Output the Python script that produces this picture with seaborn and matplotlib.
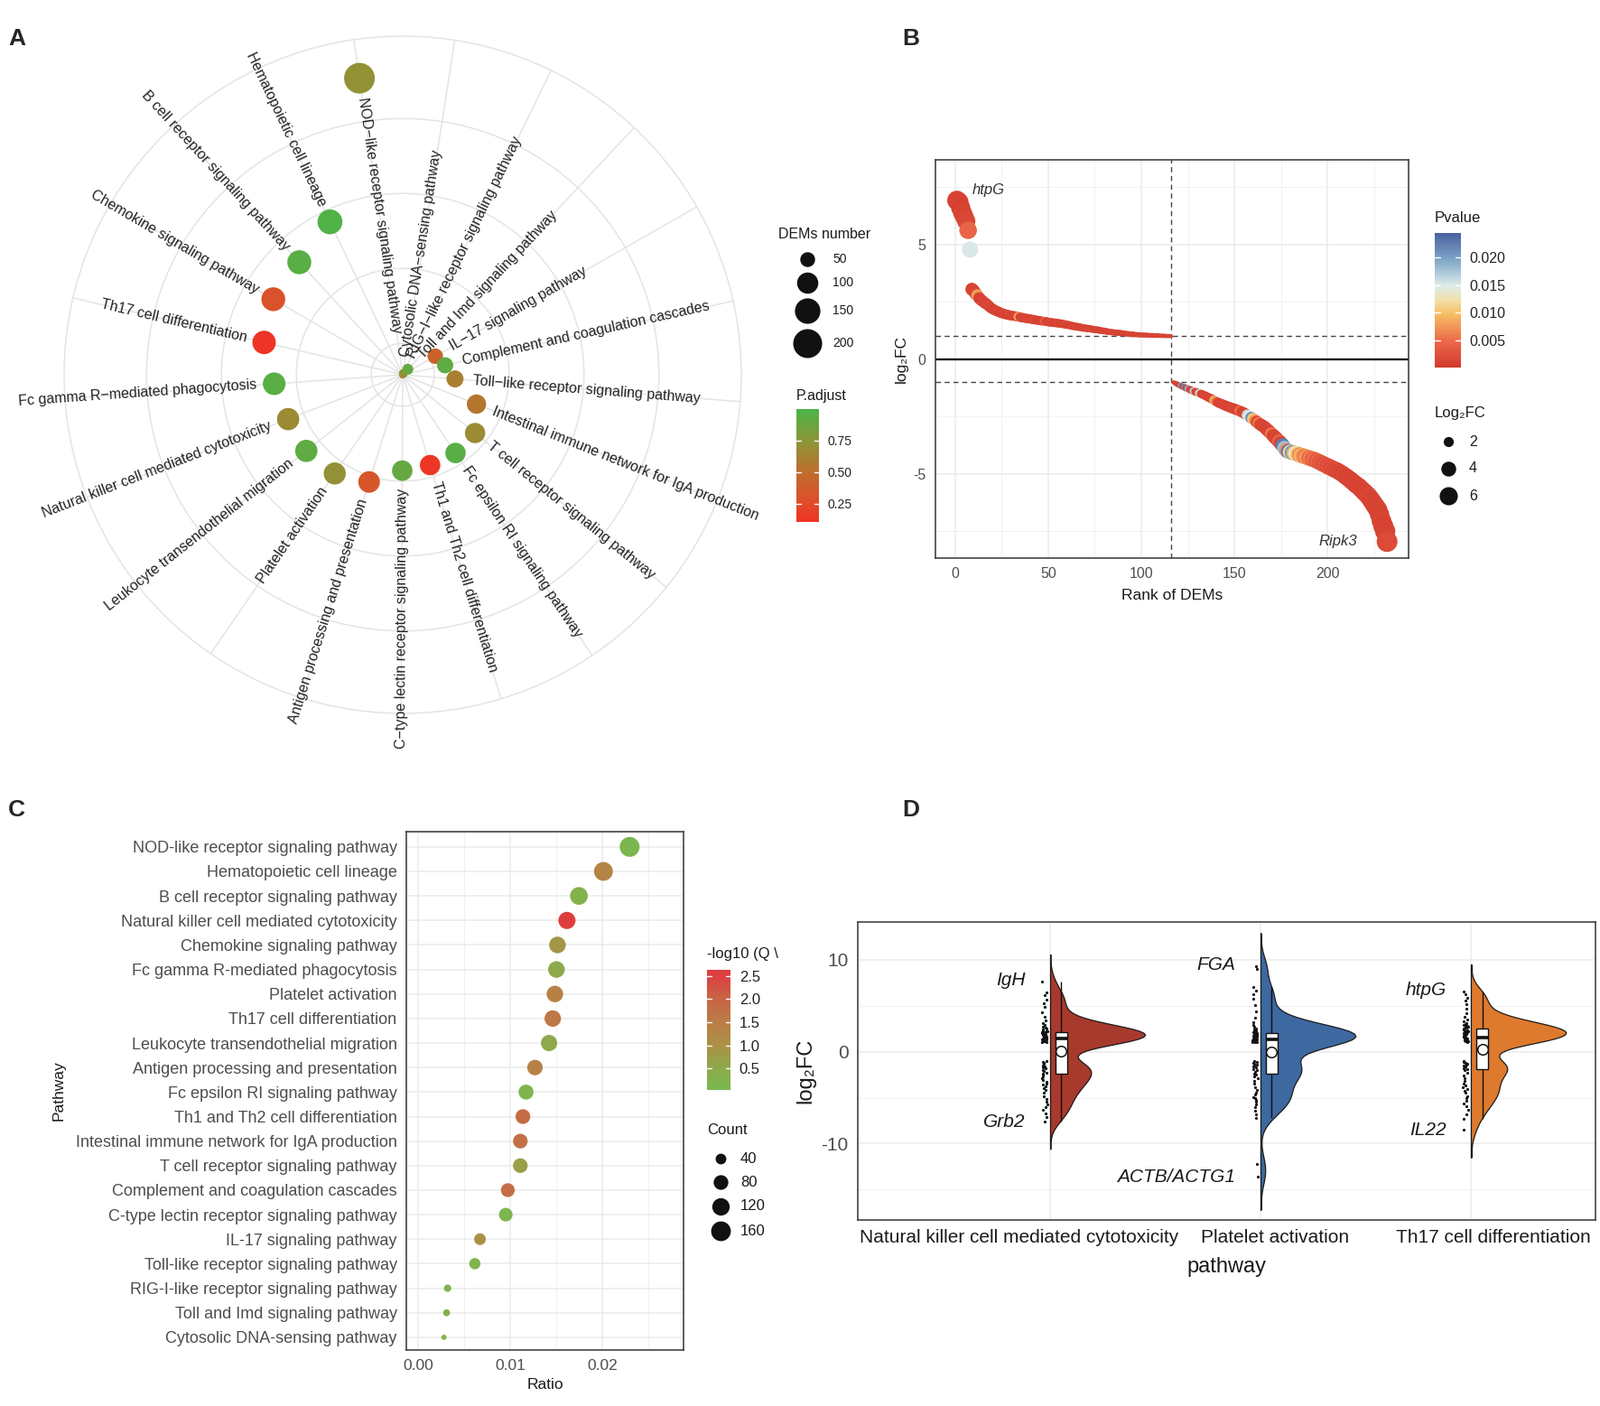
import numpy as np
import pandas as pd
import seaborn as sns
import matplotlib.pyplot as plt
import matplotlib.transforms as mtransforms
from matplotlib.colors import LinearSegmentedColormap, Normalize
from matplotlib.cm import ScalarMappable
from matplotlib.lines import Line2D
from matplotlib.patches import Rectangle
from matplotlib.ticker import MultipleLocator, FormatStrFormatter

sns.set_style("white")
plt.rcParams['font.family'] = ['Liberation Sans', 'DejaVu Sans']
plt.rcParams['axes.unicode_minus'] = False

# ---------------- A: circular enrichment plot ----------------
a_pathways = ["NOD\u2212like receptor signaling pathway", "Cytosolic DNA\u2212sensing pathway",
              "RIG\u2212I\u2212like receptor signaling pathway", "Toll and Imd signaling pathway",
              "IL\u221217 signaling pathway", "Complement and coagulation cascades",
              "Toll\u2212like receptor signaling pathway", "Intestinal immune network for IgA production",
              "T cell receptor signaling pathway", "Fc epsilon RI signaling pathway",
              "Th1 and Th2 cell differentiation", "C\u2212type lectin receptor signaling pathway",
              "Antigen processing and presentation", "Platelet activation",
              "Leukocyte transendothelial migration", "Natural killer cell mediated cytotoxicity",
              "Fc gamma R\u2212mediated phagocytosis", "Th17 cell differentiation",
              "Chemokine signaling pathway", "B cell receptor signaling pathway",
              "Hematopoietic cell lineage"]
a_dems = [229, 29, 30, 34, 54, 58, 64, 82, 91, 92, 92, 93, 104, 109, 111, 111, 115, 124, 129, 131, 142]
a_padj = [0.72, 0.30, 0.70, 0.90, 0.42, 0.93, 0.60, 0.55, 0.68, 0.95, 0.13, 0.90, 0.33, 0.72,
          0.93, 0.68, 0.95, 0.12, 0.30, 0.95, 0.98]

# ---------------- B: ranked DEMs ----------------
b_up_fc = [6.92, 6.85, 6.60, 6.38, 6.20, 6.02, 5.62, 4.78, 3.05, 2.98,
           2.86, 2.78, 2.66, 2.58, 2.52, 2.45, 2.40, 2.33, 2.25, 2.20,
           2.15, 2.11, 2.08, 2.04, 2.01, 1.98, 1.96, 1.94, 1.92, 1.90,
           1.89, 1.88, 1.86, 1.85, 1.83, 1.81, 1.80, 1.78, 1.77, 1.76,
           1.74, 1.73, 1.71, 1.70, 1.69, 1.67, 1.66, 1.65, 1.64, 1.62,
           1.61, 1.60, 1.59, 1.58, 1.57, 1.56, 1.55, 1.53, 1.52, 1.50,
           1.49, 1.47, 1.45, 1.43, 1.42, 1.41, 1.39, 1.38, 1.36, 1.35,
           1.34, 1.33, 1.32, 1.30, 1.29, 1.28, 1.27, 1.25, 1.24, 1.23,
           1.22, 1.20, 1.19, 1.18, 1.17, 1.16, 1.15, 1.15, 1.14, 1.13,
           1.12, 1.11, 1.10, 1.09, 1.09, 1.08, 1.07, 1.07, 1.06, 1.06,
           1.05, 1.05, 1.05, 1.04, 1.04, 1.04, 1.03, 1.03, 1.03, 1.02,
           1.02, 1.02, 1.01, 1.01, 1.01, 1.00]
b_up_p = [0.0009, 0.0011, 0.0007, 0.0012, 0.0010, 0.0014, 0.0043, 0.0152, 0.0011, 0.0009,
          0.0013, 0.0078, 0.0010, 0.0008, 0.0012, 0.0011, 0.0009, 0.0015, 0.0010, 0.0012,
          0.0008, 0.0011, 0.0013, 0.0009, 0.0010, 0.0012, 0.0011, 0.0009, 0.0014, 0.0010,
          0.0012, 0.0009, 0.0011, 0.0082, 0.0010, 0.0013, 0.0008, 0.0011, 0.0012, 0.0010,
          0.0009, 0.0011, 0.0014, 0.0010, 0.0008, 0.0012, 0.0011, 0.0035, 0.0010, 0.0009,
          0.0013, 0.0010, 0.0011, 0.0009, 0.0012, 0.0010, 0.0008, 0.0011, 0.0013, 0.0010,
          0.0009, 0.0012, 0.0011, 0.0010, 0.0014, 0.0009, 0.0011, 0.0010, 0.0012, 0.0008,
          0.0011, 0.0010, 0.0013, 0.0009, 0.0012, 0.0010, 0.0011, 0.0009, 0.0010, 0.0012,
          0.0010, 0.0011, 0.0009, 0.0013, 0.0010, 0.0012, 0.0008, 0.0011, 0.0010, 0.0009,
          0.0012, 0.0010, 0.0011, 0.0013, 0.0009, 0.0010, 0.0012, 0.0011, 0.0008, 0.0010,
          0.0011, 0.0009, 0.0012, 0.0010, 0.0013, 0.0011, 0.0009, 0.0010, 0.0012, 0.0010,
          0.0011, 0.0009, 0.0010, 0.0012, 0.0011, 0.0010]
b_down_fc = [-1.00, -1.04, -1.08, -1.12, -1.15, -1.19, -1.22, -1.26, -1.29, -1.32,
             -1.36, -1.39, -1.42, -1.45, -1.48, -1.51, -1.54, -1.58, -1.62, -1.66,
             -1.70, -1.74, -1.79, -1.84, -1.88, -1.92, -1.95, -1.98, -2.02, -2.05,
             -2.08, -2.11, -2.14, -2.17, -2.20, -2.23, -2.26, -2.30, -2.34, -2.39,
             -2.44, -2.49, -2.55, -2.60, -2.66, -2.73, -2.79, -2.85, -2.90, -2.95,
             -3.03, -3.10, -3.18, -3.26, -3.34, -3.42, -3.50, -3.58, -3.67, -3.76,
             -3.88, -3.97, -4.02, -4.05, -4.07, -4.09, -4.11, -4.14, -4.17, -4.20,
             -4.22, -4.25, -4.28, -4.30, -4.33, -4.36, -4.38, -4.42, -4.46, -4.50,
             -4.54, -4.58, -4.62, -4.66, -4.70, -4.74, -4.78, -4.82, -4.85, -4.90,
             -4.95, -5.00, -5.06, -5.12, -5.18, -5.24, -5.31, -5.38, -5.45, -5.51,
             -5.57, -5.65, -5.73, -5.81, -5.89, -5.97, -6.08, -6.20, -6.32, -6.44,
             -6.56, -6.78, -7.05, -7.28, -7.50, -7.95]
b_down_p = [0.0012, 0.0010, 0.0015, 0.0009, 0.0205, 0.0011, 0.0218, 0.0013, 0.0192, 0.0010,
            0.0012, 0.0171, 0.0011, 0.0009, 0.0158, 0.0013, 0.0010, 0.0012, 0.0011, 0.0009,
            0.0014, 0.0010, 0.0088, 0.0062, 0.0012, 0.0011, 0.0009, 0.0013, 0.0010, 0.0012,
            0.0011, 0.0010, 0.0014, 0.0012, 0.0009, 0.0011, 0.0051, 0.0010, 0.0012, 0.0013,
            0.0160, 0.0148, 0.0212, 0.0105, 0.0078, 0.0011, 0.0060, 0.0012, 0.0010, 0.0013,
            0.0011, 0.0009, 0.0012, 0.0055, 0.0010, 0.0013, 0.0011, 0.0042, 0.0012, 0.0225,
            0.0178, 0.0071, 0.0231, 0.0120, 0.0208, 0.0089, 0.0140, 0.0105, 0.0066, 0.0095,
            0.0072, 0.0058, 0.0081, 0.0047, 0.0063, 0.0038, 0.0052, 0.0030, 0.0044, 0.0026,
            0.0035, 0.0021, 0.0032, 0.0018, 0.0027, 0.0015, 0.0024, 0.0012, 0.0020, 0.0011,
            0.0017, 0.0010, 0.0014, 0.0012, 0.0009, 0.0013, 0.0010, 0.0011, 0.0012, 0.0009,
            0.0010, 0.0012, 0.0011, 0.0009, 0.0010, 0.0013, 0.0011, 0.0010, 0.0012, 0.0009,
            0.0011, 0.0010, 0.0012, 0.0009, 0.0010, 0.0018]
b_top_gene = "htpG"
b_bottom_gene = "Ripk3"

# ---------------- C: KEGG dot plot ----------------
c_pathways = ["NOD-like receptor signaling pathway", "Hematopoietic cell lineage",
              "B cell receptor signaling pathway", "Natural killer cell mediated cytotoxicity",
              "Chemokine signaling pathway", "Fc gamma R-mediated phagocytosis",
              "Platelet activation", "Th17 cell differentiation",
              "Leukocyte transendothelial migration", "Antigen processing and presentation",
              "Fc epsilon RI signaling pathway", "Th1 and Th2 cell differentiation",
              "Intestinal immune network for IgA production", "T cell receptor signaling pathway",
              "Complement and coagulation cascades", "C-type lectin receptor signaling pathway",
              "IL-17 signaling pathway", "Toll-like receptor signaling pathway",
              "RIG-I-like receptor signaling pathway", "Toll and Imd signaling pathway",
              "Cytosolic DNA-sensing pathway"]
c_ratio = [0.02295, 0.0201, 0.01744, 0.01614, 0.01511, 0.0150, 0.01483, 0.0146, 0.0142, 0.01267,
           0.0117, 0.01136, 0.01108, 0.01108, 0.00972, 0.0095, 0.0067, 0.00614, 0.00318, 0.00307,
           0.00278]
c_count = [163, 143, 124, 115, 107, 106, 105, 104, 101, 90, 83, 81, 79, 79, 69, 67, 48, 44, 23, 22, 20]
c_qlog = [0.15, 1.30, 0.30, 2.60, 0.90, 0.50, 1.40, 1.60, 0.55, 1.40, 0.20, 1.85, 1.75, 0.75,
          1.85, 0.15, 1.00, 0.20, 0.30, 0.30, 0.30]

# ---------------- D: half violins ----------------
d_pathways = ["Natural killer cell mediated cytotoxicity", "Platelet activation", "Th17 cell differentiation"]
d_nk = [7.6, 6.4, 6.1, 5.7, 5.3, 4.9, 4.3, 3.8, 3.4, 3.1, 2.9, 2.7, 2.6, 2.5, 2.4, 2.35, 2.3, 2.25, 2.2, 2.15,
        2.08, 2.05, 2.0, 1.97, 1.93, 1.9, 1.86, 1.82, 1.8, 1.76, 1.72, 1.7, 1.66, 1.62, 1.6, 1.56, 1.52, 1.5, 1.46, 1.42,
        1.38, 1.33, 1.3, 1.25, 1.18, 1.12, 1.06, 1.01,
        -1.02, -1.1, -1.25, -1.35, -1.5, -1.6, -1.7, -1.85, -2.0, -2.1, -2.25, -2.38,
        -2.5, -2.7, -2.9, -3.1, -3.3, -3.5, -3.6, -3.8, -4.0, -4.2, -4.5, -4.8, -5.1, -5.4, -5.7, -6.0,
        -6.3, -6.7, -7.1, -7.6]
d_platelet = [9.3, 9.0, 7.0, 6.6, 6.2, 5.8, 5.1, 4.4, 3.7, 3.2, 2.9, 2.7, 2.55, 2.45, 2.35, 2.3, 2.2, 2.15, 2.1, 2.05,
              1.95, 1.92, 1.9, 1.85, 1.82, 1.8, 1.75, 1.72, 1.7, 1.65, 1.62, 1.6, 1.55, 1.52, 1.5, 1.45, 1.42, 1.4,
              1.35, 1.32, 1.28, 1.25, 1.2, 1.17, 1.12, 1.08, 1.05, 1.01,
              -1.02, -1.1, -1.2, -1.3, -1.4, -1.5, -1.6, -1.75, -1.9, -2.05, -2.2, -2.35,
              -2.5, -2.7, -2.9, -3.2, -3.5, -3.9, -4.2, -4.5, -4.7, -4.9, -5.0, -5.2, -5.4, -5.7, -6.0, -6.4,
              -6.8, -7.2, -12.2, -13.6]
d_th17 = [6.5, 6.2, 5.9, 5.6, 5.2, 4.7, 4.2, 3.8, 3.5, 3.3, 3.1, 3.0, 2.9, 2.85, 2.8, 2.75, 2.7, 2.65, 2.6, 2.55,
          2.45, 2.4, 2.35, 2.3, 2.25, 2.2, 2.15, 2.1, 2.05, 2.0, 1.95, 1.9, 1.85, 1.8, 1.75, 1.7, 1.65, 1.6, 1.55, 1.52,
          1.48, 1.45, 1.4, 1.35, 1.3, 1.25, 1.2, 1.15, 1.1, 1.05,
          -1.0, -1.1, -1.2, -1.3, -1.4, -1.5, -1.6, -1.7, -1.8, -1.88,
          -2.0, -2.3, -2.6, -2.9, -3.2, -3.5, -3.7, -3.9, -4.1, -4.3, -4.5, -4.8, -5.0, -5.3, -5.6, -5.9,
          -6.3, -6.8, -7.3, -8.5]
d_top_genes = ["IgH", "FGA", "htpG"]
d_bottom_genes = ["Grb2", "ACTB/ACTG1", "IL22"]
d_colors = ["#A83A2D", "#3E68A0", "#DE7A2D"]

# ---------------- helpers ----------------
W, H = 1772, 1557
fig = plt.figure(figsize=(W / 100, H / 100), dpi=100)


def fx(px):
    return px / W


def fy(py):
    return 1 - py / H


def px_axes(l, t, r, b, **kw):
    return fig.add_axes([l / W, 1 - b / H, (r - l) / W, (b - t) / H], **kw)


def dot_diam(v, vmin, vmax, dmin, dmax):
    # ggplot-like area scale, diameter in pixels
    f = np.clip((np.asarray(v, dtype=float) - vmin) / (vmax - vmin), 0, 1)
    return dmin + np.sqrt(f) * (dmax - dmin)


def dot_area(v, *scale):
    return (dot_diam(v, *scale) * 0.72) ** 2


def bw_axes(ax, fs):
    for s in ax.spines.values():
        s.set_visible(True)
        s.set_color('#333333')
        s.set_linewidth(1.1)
    ax.grid(True, which='major', color='#EBEBEB', lw=1.1)
    ax.grid(True, which='minor', color='#F1F1F1', lw=0.7)
    ax.set_axisbelow(True)
    ax.tick_params(which='major', length=4, width=1, color='#333333', labelcolor='#4D4D4D', labelsize=fs)
    ax.tick_params(which='minor', length=0)


def add_colorbar(l, t, r, b, cmap, norm, ticks, fmt, fs):
    cax = px_axes(l, t, r, b)
    cb = fig.colorbar(ScalarMappable(norm=norm, cmap=cmap), cax=cax)
    cb.outline.set_visible(False)
    cb.set_ticks(ticks)
    cb.set_ticklabels([fmt.format(t) for t in ticks])
    cax.tick_params(length=0, labelsize=fs, pad=7, labelcolor='#222222')
    trans = mtransforms.blended_transform_factory(cax.transAxes, cax.transData)
    for t in ticks:
        cax.plot([0, 0.2], [t, t], color='white', lw=1, transform=trans)
        cax.plot([0.8, 1], [t, t], color='white', lw=1, transform=trans)
    cax.set_ylim(norm.vmin, norm.vmax)
    return cax


def add_size_legend(title, xt, yt, xd, xl, ys, values, diams, fs_t, fs_l):
    fig.text(fx(xt), fy(yt), title, fontsize=fs_t, ha='left', va='center', color='#1a1a1a')
    for y, v, d in zip(ys, values, diams):
        fig.add_artist(Line2D([fx(xd)], [fy(y)], marker='o', ms=d * 0.72, color='#111111',
                              mec='none', ls='none', transform=fig.transFigure))
        fig.text(fx(xl), fy(y), str(v), fontsize=fs_l, ha='left', va='center', color='#1a1a1a')


# ================= Panel A =================
cmapA = LinearSegmentedColormap.from_list('padj', [(0, '#EE3226'), (0.16, '#E14B28'), (0.44, '#BE6E2D'),
                                                    (0.72, '#8C9637'), (1, '#4CB448')])
normA = Normalize(0.107, 1.0)
scaleA = (29, 229, 8, 34)
rmin, rmax = 29, 255

axA = px_axes(71, 40, 821, 790, projection='polar')
nA = len(a_pathways)
dfA = pd.DataFrame({'theta': np.arange(nA) * 2 * np.pi / nA, 'dems': a_dems, 'padj': a_padj})
dfA['size'] = dot_area(dfA['dems'], *scaleA)
offset = 98.3
axA.set_theta_offset(np.deg2rad(offset))
axA.set_theta_direction(-1)
sns.scatterplot(data=dfA, x='theta', y='dems', hue='padj', hue_norm=normA, palette=cmapA,
                size='size', sizes=(dfA['size'].min(), dfA['size'].max()),
                size_norm=(dfA['size'].min(), dfA['size'].max()),
                linewidth=0, legend=False, ax=axA, zorder=3)
axA.set_ylim(rmin, rmax)
axA.set_xticks(dfA['theta'])
axA.set_xticklabels([])
axA.set_yticks([50, 100, 150, 200])
axA.set_yticklabels([])
axA.grid(True, color='#E4E4E4', lw=1.1)
axA.spines['polar'].set_color('#E4E4E4')
axA.spines['polar'].set_linewidth(1.1)
axA.set_xlabel('')
axA.set_ylabel('')
for th, r, lab in zip(dfA['theta'], dfA['dems'], a_pathways):
    ang = offset - np.rad2deg(th)
    ang = (ang + 180) % 360 - 180
    right = np.cos(np.deg2rad(ang)) > 0
    rot = ang if right else ang + 180
    if r > 0.8 * rmax:
        rl, ha = r - 13, ('right' if right else 'left')
    else:
        rl, ha = r + 12, ('left' if right else 'right')
    axA.text(th, rl, lab, rotation=rot, rotation_mode='anchor', ha=ha, va='center',
             fontsize=11.5, color='#222222')

leg_dems = [50, 100, 150, 200]
add_size_legend('DEMs number', 862, 259, 894, 922, [287, 313, 344, 380], leg_dems,
                dot_diam(leg_dems, *scaleA), 11.5, 10)
fig.text(fx(882), fy(439), 'P.adjust', fontsize=11.5, ha='left', va='center', color='#1a1a1a')
add_colorbar(882, 453, 907, 578, cmapA, normA, [0.25, 0.50, 0.75], '{:.2f}', 10)

# ================= Panel B =================
cmapB = LinearSegmentedColormap.from_list('pv', [(0, '#D2392D'), (0.2, '#EC6B4A'), (0.4, '#F6C066'),
                                                  (0.5, '#F2E0AA'), (0.61, '#DDECEA'), (0.8, '#7FA6C8'),
                                                  (1, '#4A62A0')])
normB = Normalize(0.0, 0.0245)
scaleB = (1.0, 7.95, 4, 23)
fcB = b_up_fc + b_down_fc
dfB = pd.DataFrame({'rank': np.arange(1, len(fcB) + 1), 'log2fc': fcB, 'pvalue': b_up_p + b_down_p})
dfB['size'] = dot_area(dfB['log2fc'].abs(), *scaleB)

axB = px_axes(1036, 177, 1560, 618)
sns.scatterplot(data=dfB, x='rank', y='log2fc', hue='pvalue', hue_norm=normB, palette=cmapB,
                size='size', sizes=(dfB['size'].min(), dfB['size'].max()),
                size_norm=(dfB['size'].min(), dfB['size'].max()),
                linewidth=0, legend=False, ax=axB, zorder=3)
bw_axes(axB, 11.5)
axB.axvline(len(b_up_fc), color='#444444', lw=1, ls=(0, (4, 3)), zorder=2)
axB.axhline(1, color='#444444', lw=1, ls=(0, (4, 3)), zorder=2)
axB.axhline(-1, color='#444444', lw=1, ls=(0, (4, 3)), zorder=2)
axB.axhline(0, color='black', lw=1.6, zorder=2)
axB.set_xlim(-10.55, 243.55)
axB.set_ylim(-8.67, 8.69)
axB.xaxis.set_major_locator(MultipleLocator(50))
axB.xaxis.set_minor_locator(MultipleLocator(25))
axB.yaxis.set_major_locator(MultipleLocator(5))
axB.yaxis.set_minor_locator(MultipleLocator(2.5))
axB.set_xlabel('Rank of DEMs', fontsize=12.5, color='#1a1a1a', labelpad=6)
axB.set_ylabel('log\u2082FC', fontsize=12.5, color='#1a1a1a', labelpad=4)
top = dfB.loc[dfB['log2fc'].idxmax()]
bot = dfB.loc[dfB['log2fc'].idxmin()]
axB.text(top['rank'] + 8, top['log2fc'] + 0.45, b_top_gene, style='italic', fontsize=12,
         color='#333333', ha='left', va='center')
axB.text(bot['rank'] - 16, bot['log2fc'], b_bottom_gene, style='italic', fontsize=12,
         color='#333333', ha='right', va='center')

fig.text(fx(1589), fy(241), 'Pvalue', fontsize=12, ha='left', va='center', color='#1a1a1a')
add_colorbar(1589, 258, 1618, 407, cmapB, normB, [0.005, 0.010, 0.015, 0.020], '{:.3f}', 11.5)
leg_fc = [2, 4, 6]
fig.text(fx(1589), fy(457), 'Log\u2082FC', fontsize=12, ha='left', va='center', color='#1a1a1a')
add_size_legend('', 1589, 457, 1604, 1627, [489, 519, 549], leg_fc,
                dot_diam(leg_fc, *scaleB), 12, 11.5)

# ================= Panel C =================
cmapC = LinearSegmentedColormap.from_list('q', [(0, '#78B950'), (0.18, '#8CAA4B'), (0.37, '#AA9146'),
                                                 (0.56, '#BA7D46'), (0.76, '#C86446'), (0.95, '#DC4141'),
                                                 (1, '#DE3C3C')])
normC = Normalize(0.04, 2.63)
scaleC = (20, 163, 5.8, 22)
dfC = pd.DataFrame({'pathway': c_pathways, 'ratio': c_ratio, 'count': c_count, 'qlog': c_qlog})
dfC['ypos'] = np.arange(len(dfC))
dfC['size'] = dot_area(dfC['count'], *scaleC)

axC = px_axes(450, 921, 757, 1495)
sns.scatterplot(data=dfC, x='ratio', y='ypos', hue='qlog', hue_norm=normC, palette=cmapC,
                size='size', sizes=(dfC['size'].min(), dfC['size'].max()),
                size_norm=(dfC['size'].min(), dfC['size'].max()),
                linewidth=0, legend=False, ax=axC, zorder=3)
bw_axes(axC, 13)
axC.set_yticks(dfC['ypos'])
axC.set_yticklabels(dfC['pathway'])
axC.set_ylim(len(dfC) - 1 + 0.52, -0.62)
axC.set_xlim(-0.0013, 0.0288)
axC.xaxis.set_major_locator(MultipleLocator(0.01))
axC.xaxis.set_minor_locator(MultipleLocator(0.005))
axC.xaxis.set_major_formatter(FormatStrFormatter('%.2f'))
axC.tick_params(axis='x', labelsize=12.5)
axC.set_xlabel('Ratio', fontsize=12.5, color='#1a1a1a', labelpad=4)
axC.set_ylabel('Pathway', fontsize=12.5, color='#1a1a1a', labelpad=8)

fig.text(fx(783), fy(1056), '-log10 (Q \\', fontsize=12, ha='left', va='center', color='#1a1a1a')
add_colorbar(783, 1074, 809, 1207, cmapC, normC, [0.5, 1.0, 1.5, 2.0, 2.5], '{:.1f}', 12)
leg_cnt = [40, 80, 120, 160]
add_size_legend('Count', 783, 1251, 798, 820, [1283, 1309, 1336, 1363], leg_cnt,
                dot_diam(leg_cnt, *scaleC), 12, 12)

# ================= Panel D =================
d_groups = [d_nk, d_platelet, d_th17]
dfD = pd.concat([pd.DataFrame({'pathway': p, 'pos': i, 'log2fc': v})
                 for i, (p, v) in enumerate(zip(d_pathways, d_groups))], ignore_index=True)
dfD['box_x'] = dfD['pos'] + 0.052
dfD['strip_x'] = dfD['pos'] - 0.028

axD = px_axes(950, 1021, 1767, 1351)
pal = dict(zip(d_pathways, d_colors))
n0 = len(axD.collections)
sns.violinplot(data=dfD, x='pos', y='log2fc', hue='pathway', palette=pal, native_scale=True,
               inner=None, cut=3, bw_adjust=0.7, density_norm='width', width=0.9,
               linewidth=0.9, linecolor='#1a1a1a', saturation=1, dodge=False, legend=False, ax=axD)
for coll in axD.collections[n0:]:
    paths = coll.get_paths()
    if not paths:
        continue
    v = paths[0].vertices
    c = int(round(v[:, 0].mean()))
    coll.set_clip_path(Rectangle((c, -100), 1.0, 200, transform=axD.transData))
    axD.plot([c, c], [v[:, 1].min(), v[:, 1].max()], color='#1a1a1a', lw=0.9, zorder=coll.get_zorder())

sns.stripplot(data=dfD, x='strip_x', y='log2fc', native_scale=True, jitter=0.012, size=2.3,
              color='#111111', linewidth=0, ax=axD, zorder=4)
sns.boxplot(data=dfD, x='box_x', y='log2fc', native_scale=True, width=0.055, showfliers=False,
            color='white', linecolor='#111111', linewidth=1.0, saturation=1, showcaps=False,
            medianprops=dict(linewidth=2.6), ax=axD, zorder=5)
means = dfD.groupby('box_x', as_index=False)['log2fc'].mean()
sns.scatterplot(data=means, x='box_x', y='log2fc', marker='o', s=70, color='white',
                edgecolor='#111111', linewidth=1.1, ax=axD, zorder=6, legend=False)

for i, (vals, gt, gb) in enumerate(zip(d_groups, d_top_genes, d_bottom_genes)):
    axD.text(i - 0.12, max(vals) + 0.15, gt, style='italic', fontsize=15, ha='right', va='center',
             color='#1a1a1a')
    axD.text(i - 0.12, min(vals) - 0.05, gb, style='italic', fontsize=15, ha='right', va='center',
             color='#1a1a1a')

bw_axes(axD, 15)
axD.set_xlim(-0.915, 2.59)
axD.set_ylim(-18.3, 14.1)
axD.set_xticks(range(len(d_pathways)))
axD.set_xticklabels(d_pathways, color='#1a1a1a')
axD.xaxis.set_minor_locator(plt.NullLocator())
axD.yaxis.set_major_locator(MultipleLocator(10))
axD.yaxis.set_minor_locator(MultipleLocator(5))
axD.set_xlabel('pathway', fontsize=17, color='#1a1a1a', labelpad=8)
axD.set_ylabel('log\u2082FC', fontsize=17, color='#1a1a1a', labelpad=4)
# the reference nudges the category labels apart so they do not collide
for lab, dx in zip(axD.get_xticklabels(), [-35, 16, 24]):
    lab.set_transform(lab.get_transform() + mtransforms.ScaledTranslation(dx / 100, 0, fig.dpi_scale_trans))

# panel letters
for letter, (x, y) in zip('ABCD', [(9, 43), (999, 43), (9, 897), (999, 897)]):
    fig.text(fx(x), fy(y), letter, fontsize=19, fontweight='bold', ha='left', va='center')

fig.savefig('out.png', dpi=100)
